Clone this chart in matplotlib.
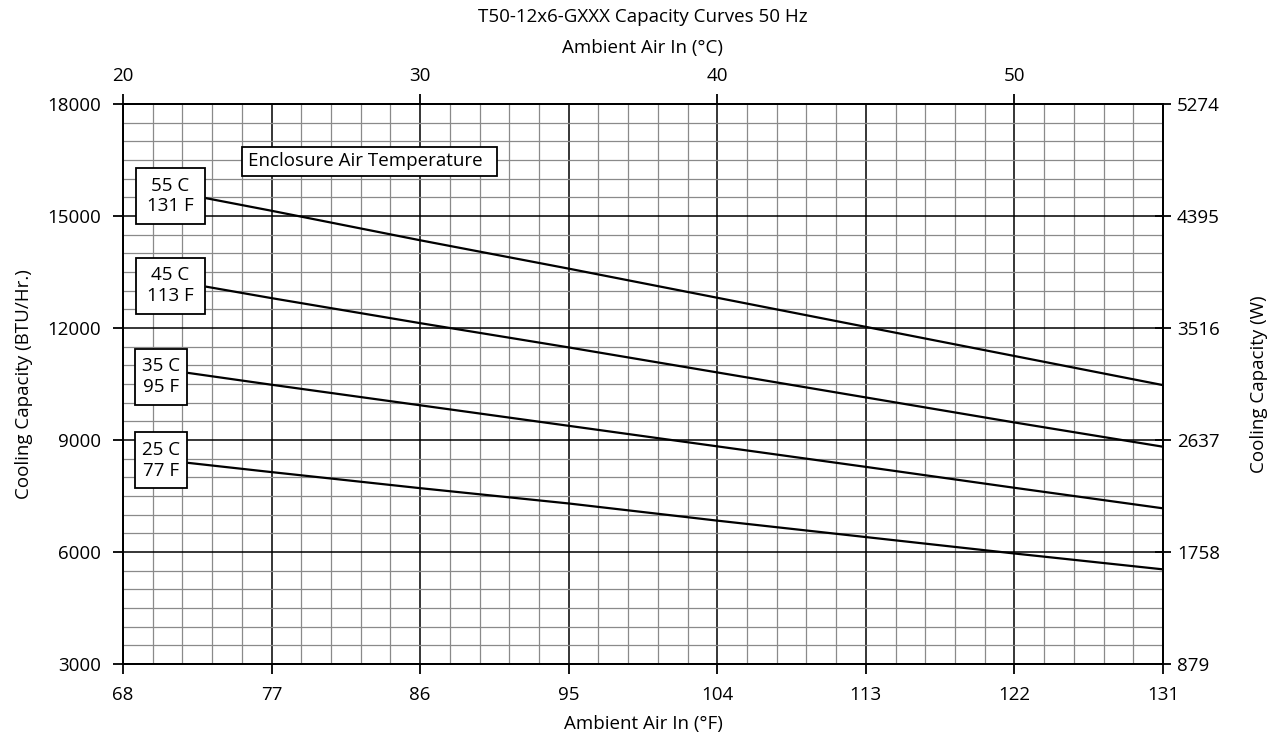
import numpy as np
import matplotlib
matplotlib.use("Agg")
import matplotlib.pyplot as plt
from matplotlib.ticker import FixedLocator
from matplotlib.patches import Rectangle

plt.rcParams['font.family'] = ['Open Sans', 'DejaVu Sans']

# ---- data ----
ambient_f = [77, 86, 95, 104, 113, 122, 131]
cap_55c = [15140, 14350, 13590, 12810, 12030, 11250, 10470]
cap_45c = [12800, 12130, 11480, 10810, 10140, 9470, 8820]
cap_35c = [10480, 9930, 9380, 8830, 8280, 7720, 7170]
cap_25c = [8140, 7710, 7300, 6840, 6400, 5960, 5535]
# where each curve begins (right edge of its label box)
start_f = [73.0, 73.0, 71.9, 71.9]
start_cap = [15480, 13110, 10800, 8390]
series = [cap_55c, cap_45c, cap_35c, cap_25c]
series_labels = ["55 C\n131 F", "45 C\n113 F", "35 C\n95 F", "25 C\n77 F"]

x_ticks_f = [68, 77, 86, 95, 104, 113, 122, 131]
x_ticks_c = [20, 30, 40, 50]
y_ticks_btu = [3000, 6000, 9000, 12000, 15000, 18000]
y_labels_w = ["879", "1758", "2637", "3516", "4395", "5274"]

FS = 13.5

fig = plt.figure(figsize=(12.79, 7.38), dpi=100)
ax = fig.add_axes([123/1279, 1 - 664/738, (1163-123)/1279, (664-104)/738])

ax.set_xlim(68, 131)
ax.set_ylim(3000, 18000)

ax.xaxis.set_major_locator(FixedLocator(x_ticks_f))
ax.xaxis.set_minor_locator(FixedLocator(np.arange(68, 131.01, 1.8)))
ax.yaxis.set_major_locator(FixedLocator(y_ticks_btu))
ax.yaxis.set_minor_locator(FixedLocator(np.arange(3000, 18001, 500)))

ax.grid(which='minor', color='#8a8a8a', lw=0.9, zorder=0)
ax.grid(which='major', color='black', lw=1.1, zorder=0)
ax.set_axisbelow(True)

ax.tick_params(which='minor', length=0)
ax.tick_params(which='major', direction='out', length=7, width=1.3, labelsize=FS,
               top=False, right=False, pad=9)
ax.tick_params(axis='y', pad=9)
for s in ax.spines.values():
    s.set_linewidth(1.3)

for x0, y0, vals in zip(start_f, start_cap, series):
    ax.plot([x0] + ambient_f, [y0] + vals, color='black', lw=1.6, zorder=3,
            solid_capstyle='butt')

# label boxes (position/size in data units)
box_x = [68.79, 68.79, 68.73, 68.73]
box_w = [4.18, 4.18, 3.15, 3.15]
box_top = [16285, 13880, 11447, 9208]
box_h = 1500
for lab, bx, bw, bt in zip(series_labels, box_x, box_w, box_top):
    ax.add_patch(Rectangle((bx, bt - box_h), bw, box_h, fc='white', ec='black',
                           lw=1.3, zorder=5))
    ax.text(bx + bw / 2, bt - box_h / 2, lab, ha='center', va='center',
            multialignment='center', fontsize=FS, zorder=6, linespacing=1.2)

ax.add_patch(Rectangle((75.21, 16071), 15.45, 777, fc='white', ec='black', lw=1.3, zorder=5))
ax.text(75.57, 16460, "Enclosure Air Temperature", ha='left', va='center',
        fontsize=FS, zorder=6)

ax.set_xlabel("Ambient Air In (°F)", fontsize=FS, labelpad=8)
ax.set_ylabel("Cooling Capacity (BTU/Hr.)", fontsize=FS, labelpad=10)

# top Celsius axis
sec = ax.secondary_xaxis('top', functions=(lambda f: (f - 32) / 1.8, lambda c: c * 1.8 + 32))
sec.set_xticks(x_ticks_c)
sec.tick_params(direction='out', length=7, width=1.3, labelsize=FS, pad=7)
sec.set_xlabel("Ambient Air In (°C)", fontsize=FS, labelpad=10)
sec.spines['top'].set_linewidth(1.3)

# right Watts axis
axr = ax.twinx()
axr.set_ylim(3000, 18000)
axr.set_yticks(y_ticks_btu)
axr.set_yticklabels(y_labels_w)
axr.tick_params(direction='inout', length=12, width=1.3, labelsize=FS, pad=4)
axr.set_ylabel("Cooling Capacity (W)", fontsize=FS, labelpad=22)
for s in axr.spines.values():
    s.set_linewidth(1.3)

fig.text(643/1279, 1 - 17/738, "T50-12x6-GXXX Capacity Curves 50 Hz", ha='center',
         va='center', fontsize=FS)

fig.savefig("out.png", dpi=100)
